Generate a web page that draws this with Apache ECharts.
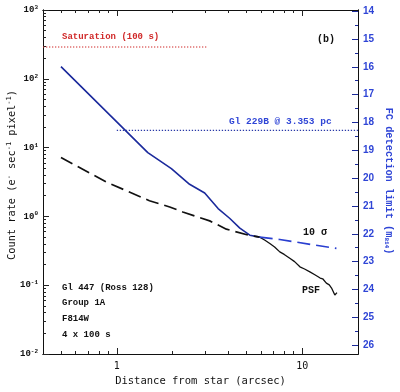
<!DOCTYPE html>
<html><head><meta charset="utf-8">
<script src="https://cdn.jsdelivr.net/npm/echarts@6/dist/echarts.min.js"></script>
<style>html,body{margin:0;padding:0;background:#fff}#c{width:400px;height:392px}</style>
</head><body><div id="c"></div>
<script>
// ---- tick values ----
const xMajorTicks = [1, 10];
const xMinorTicks = [0.5, 0.6, 0.7, 0.8, 0.9, 2, 3, 4, 5, 6, 7, 8, 9];
const yMajorTicks = [0.01, 0.1, 1, 10, 100, 1000];
const yMinorTicks = [0.02,0.03,0.04,0.05,0.06,0.07,0.08,0.09,
                     0.2,0.3,0.4,0.5,0.6,0.7,0.8,0.9,
                     2,3,4,5,6,7,8,9,
                     20,30,40,50,60,70,80,90,
                     200,300,400,500,600,700,800,900];
const magTicks = [14,15,16,17,18,19,20,21,22,23,24,25,26];
const magMinorTicks = [14.5,15.5,16.5,17.5,18.5,19.5,20.5,21.5,22.5,23.5,24.5,25.5];

// ---- data: [distance (arcsec), count rate] ----
const psfAboveLimit = [[0.50,150],[1.47,8.46],[1.97,4.96],[2.47,2.93],[2.98,2.19],[3.52,1.30],[4.06,0.94],[4.61,0.674],[5.22,0.533],[5.9,0.50]];
const psfBelowLimit = [[5.9,0.50],[6.3,0.45],[6.69,0.404],[7.1,0.36],[7.57,0.305],[8.0,0.28],[8.57,0.247],[9.1,0.22],[9.72,0.185],[10.3,0.172],[11.0,0.156],[11.7,0.142],[12.5,0.127],[12.9,0.124],[13.5,0.107],[14.0,0.101],[14.4,0.091],[15.0,0.072],[15.4,0.078]];
const sigmaBelowPsf = [[0.50,7.16],[0.876,3.17],[1.50,1.69],[1.93,1.37],[2.27,1.16],[3.17,0.861],[3.90,0.652],[5.21,0.528],[5.9,0.50]];
const sigmaLimit = [[5.9,0.50],[7.57,0.462],[15.3,0.342]];
const saturation = [[0.4,290],[3.05,290]];
const gl229b = [[1.0,17.8],[20,17.8]];

const BLUE_TXT = '#2f45d6';
const NAVY = '#1b2a9c';
const RED = '#d02828';
const mono = '"DejaVu Sans Mono", monospace';
const typew = '"Liberation Mono", monospace';

const chart = echarts.init(document.getElementById('c'), null, {renderer: 'canvas'});

function xAxisDef(pos, ticks, len, labels) {
  return {
    type: 'log', logBase: 10, min: 0.4, max: 20, position: pos,
    axisLine: {show: true, lineStyle: {color: '#111', width: 1}},
    axisTick: {show: true, inside: true, length: len, customValues: ticks, lineStyle: {color: '#222'}},
    axisLabel: labels ? {show: true, customValues: ticks, margin: 7, color: '#111', fontSize: 10, fontFamily: mono} : {show: false},
    splitLine: {show: false}
  };
}
function yLogDef(ticks, len, labels) {
  return {
    type: 'log', logBase: 10, min: 0.01, max: 1000, position: 'left',
    axisLine: {show: true, lineStyle: {color: '#111', width: 1}},
    axisTick: {show: true, inside: true, length: len, customValues: ticks, lineStyle: {color: '#222'}},
    axisLabel: labels ? {
      show: true, customValues: ticks, margin: 5,
      formatter: v => {
        const e = Math.round(Math.log10(v));
        return '{b|10}{s|' + (e < 0 ? '-' + (-e) : e) + '}';
      },
      rich: {
        b: {fontSize: 9, fontFamily: typew, fontWeight: 'bold', color: '#111'},
        s: {fontSize: 6, fontFamily: typew, fontWeight: 'bold', color: '#111', padding: [0, 0, 5, 0]}
      }
    } : {show: false},
    splitLine: {show: false}
  };
}
function yMagDef(ticks, len, labels) {
  return {
    type: 'value', min: 13.96, max: 26.32, inverse: true, position: 'right',
    axisLine: {show: true, lineStyle: {color: '#111', width: 1}},
    axisTick: {show: true, inside: true, length: len, customValues: ticks, lineStyle: {color: NAVY}},
    axisLabel: labels ? {show: true, customValues: ticks, margin: 5, color: BLUE_TXT, fontSize: 10, fontWeight: 'bold', fontFamily: '"Liberation Sans", sans-serif'} : {show: false},
    splitLine: {show: false}
  };
}

const option = {
  animation: false,
  backgroundColor: '#fff',
  grid: {left: 43, right: 42, top: 10, bottom: 38, containLabel: false},
  xAxis: [
    Object.assign(xAxisDef('bottom', xMajorTicks, 6, true), {
      name: 'Distance from star (arcsec)', nameLocation: 'middle', nameGap: 20,
      nameTextStyle: {fontSize: 10.5, fontFamily: mono, color: '#111'}
    }),
    xAxisDef('bottom', xMinorTicks, 3, false),
    xAxisDef('top', xMajorTicks, 6, false),
    xAxisDef('top', xMinorTicks, 3, false)
  ],
  yAxis: [
    yLogDef(yMajorTicks, 6, true),
    yLogDef(yMinorTicks, 3, false),
    yMagDef(magTicks, 6, true),
    yMagDef(magMinorTicks, 3, false)
  ],
  series: [
    {type: 'line', data: psfAboveLimit, symbol: 'none', xAxisIndex: 0, yAxisIndex: 0,
     lineStyle: {color: NAVY, width: 1.6}},
    {type: 'line', data: psfBelowLimit, symbol: 'none', xAxisIndex: 0, yAxisIndex: 0,
     lineStyle: {color: '#111', width: 1.3}},
    {type: 'line', data: sigmaBelowPsf, symbol: 'none', xAxisIndex: 0, yAxisIndex: 0,
     lineStyle: {color: '#111', width: 1.7, type: [13, 6]}},
    {type: 'line', data: sigmaLimit, symbol: 'none', xAxisIndex: 0, yAxisIndex: 0,
     lineStyle: {color: '#2a3fd0', width: 1.7, type: [13, 6]}},
    {type: 'line', data: saturation, symbol: 'none', xAxisIndex: 0, yAxisIndex: 0,
     lineStyle: {color: RED, width: 1.2, type: [1.3, 1.7]}},
    {type: 'line', data: gl229b, symbol: 'none', xAxisIndex: 0, yAxisIndex: 0,
     lineStyle: {color: '#2a3aa8', width: 1.2, type: [1.3, 1.7]}}
  ],
  graphic: [
    {type: 'text', x: 12, y: 175, rotation: Math.PI / 2,
     style: {text: 'Count rate (e{s|-} sec{s|-1} pixel{s|-1})', fill: '#111', font: '10.3px ' + mono,
             align: 'center', verticalAlign: 'middle',
             rich: {s: {fontSize: 7, fontFamily: mono, fill: '#111', padding: [0, 0, 5, 0]}}}},
    {type: 'text', x: 389, y: 181, rotation: -Math.PI / 2,
     style: {text: 'FC detection limit (m{u|814})', fill: BLUE_TXT, font: 'bold 10.3px ' + typew,
             align: 'center', verticalAlign: 'middle',
             rich: {u: {fontSize: 6, fontFamily: typew, fontWeight: 'bold', fill: BLUE_TXT, padding: [4, 0, 0, 0]}}}},
    {type: 'text', x: 62, y: 37, style: {text: 'Saturation (100 s)', fill: RED, font: 'bold 9px ' + typew, verticalAlign: 'middle'}},
    {type: 'text', x: 229, y: 122, style: {text: 'Gl 229B @ 3.353 pc', fill: BLUE_TXT, font: 'bold 9.5px ' + typew, verticalAlign: 'middle'}},
    {type: 'text', x: 317, y: 39, style: {text: '(b)', fill: '#111', font: 'bold 10px ' + typew, verticalAlign: 'middle'}},
    {type: 'text', x: 303, y: 232, style: {text: '10 σ', fill: '#111', font: 'bold 10px ' + typew, verticalAlign: 'middle'}},
    {type: 'text', x: 302, y: 290, style: {text: 'PSF', fill: '#111', font: 'bold 10px ' + typew, verticalAlign: 'middle'}},
    {type: 'text', x: 62, y: 288, style: {text: 'Gl 447 (Ross 128)', fill: '#111', font: 'bold 9px ' + typew, verticalAlign: 'middle'}},
    {type: 'text', x: 62, y: 303, style: {text: 'Group 1A', fill: '#111', font: 'bold 9px ' + typew, verticalAlign: 'middle'}},
    {type: 'text', x: 62, y: 319, style: {text: 'F814W', fill: '#111', font: 'bold 9px ' + typew, verticalAlign: 'middle'}},
    {type: 'text', x: 62, y: 335, style: {text: '4 x 100 s', fill: '#111', font: 'bold 9px ' + typew, verticalAlign: 'middle'}}
  ]
};
chart.setOption(option);
</script>
</body></html>
